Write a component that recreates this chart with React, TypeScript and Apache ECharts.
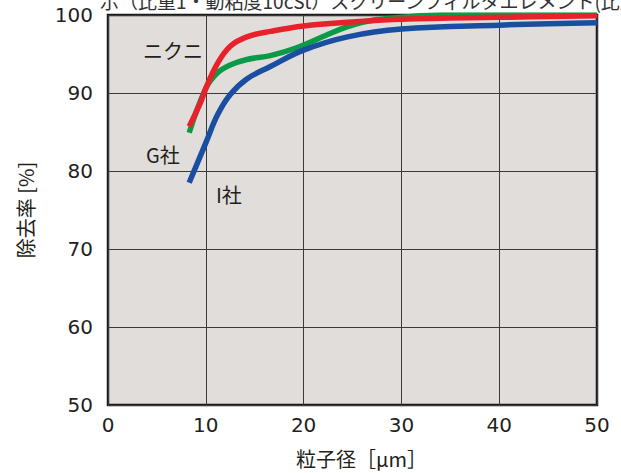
import React, { useEffect, useRef } from "react";
import * as echarts from "echarts";

const xTicks = [0, 10, 20, 30, 40, 50];
const yTicks = [50, 60, 70, 80, 90, 100];

const nikuniData: [number, number][] = [
  [8.3, 85.7], [9.5, 88.9], [10, 90.6], [11.2, 93.8], [12.5, 96.0], [14.2, 97.2],
  [16.6, 97.9], [20, 98.6], [25, 99.1], [30, 99.45], [40, 99.7], [50, 99.9],
];
const gData: [number, number][] = [
  [8.3, 84.9], [10, 90.6], [11.2, 92.6], [12.5, 93.6], [14.2, 94.3], [16.6, 94.8],
  [19.3, 95.8], [22.3, 97.4], [24.5, 98.5], [26.9, 99.3], [30, 99.7], [34, 100], [50, 100],
];
const iData: [number, number][] = [
  [8.3, 78.5], [10, 83.6], [11.2, 87.2], [12.5, 89.8], [14.2, 91.8], [16.6, 93.4],
  [20, 95.5], [24.5, 97.2], [30, 98.2], [40, 98.7], [50, 99.0],
];

const seriesNames = ["ニクニ", "G社", "I社"];
const xAxisName = "粒子径［μm］";
const yAxisName = "除去率 [%]";
const caption = "示（比重1・動粘度10cSt）スクリーンフィルタエレメント(比重";

export default function App() {
  const ref = useRef<HTMLDivElement>(null);
  useEffect(() => {
    const chart = echarts.init(ref.current!, null, { renderer: "svg" });
    const numFont = '"DejaVu Sans", "Noto Sans CJK JP", sans-serif';
    const jpFont = '"Noto Sans CJK JP", sans-serif';
    chart.setOption({
      animation: false,
      grid: {
        left: 108,
        top: 15,
        width: 489,
        height: 392,
        show: true,
        backgroundColor: "#e1dddb",
        borderColor: "#1a1a1a",
        borderWidth: 2.5,
        z: 0,
      },
      xAxis: {
        type: "value",
        min: xTicks[0],
        max: xTicks[xTicks.length - 1],
        interval: 10,
        name: xAxisName,
        nameLocation: "middle",
        nameGap: 43,
        nameTextStyle: { fontFamily: jpFont, fontSize: 20, color: "#231f20", padding: [0, 0, 0, 18] },
        axisLine: { show: false },
        axisTick: { show: false },
        axisLabel: { fontFamily: numFont, fontSize: 20, color: "#231f20", margin: 10 },
        splitLine: { show: true, lineStyle: { color: "#3a3a3a", width: 1 } },
      },
      yAxis: {
        type: "value",
        min: yTicks[0],
        max: yTicks[yTicks.length - 1],
        interval: 10,
        name: yAxisName,
        nameLocation: "middle",
        nameRotate: 90,
        nameGap: 73,
        nameTextStyle: { fontFamily: jpFont, fontSize: 20, color: "#231f20" },
        axisLine: { show: false },
        axisTick: { show: false },
        axisLabel: { fontFamily: numFont, fontSize: 20, color: "#231f20", margin: 15 },
        splitLine: { show: true, lineStyle: { color: "#3a3a3a", width: 1 } },
      },
      series: [
        {
          name: seriesNames[1],
          type: "line",
          data: gData,
          smooth: 0.4,
          showSymbol: false,
          lineStyle: { color: "#0a9a48", width: 5.5 },
          z: 3,
        },
        {
          name: seriesNames[2],
          type: "line",
          data: iData,
          smooth: 0.4,
          showSymbol: false,
          lineStyle: { color: "#1a4ea0", width: 5.5 },
          z: 4,
        },
        {
          name: seriesNames[0],
          type: "line",
          data: nikuniData,
          smooth: 0.4,
          showSymbol: false,
          lineStyle: { color: "#e8212a", width: 5.5 },
          z: 5,
        },
      ],
      graphic: [
        {
          type: "text",
          left: 100,
          top: -9,
          style: { text: caption, fontFamily: jpFont, fontSize: 19, fill: "#333" },
        },
        {
          type: "text",
          x: 143,
          y: 50,
          style: { text: seriesNames[0], fontFamily: jpFont, fontSize: 20, fill: "#231f20", verticalAlign: "middle" },
          z: 10,
        },
        {
          type: "text",
          x: 146,
          y: 154,
          style: { text: seriesNames[1], fontFamily: jpFont, fontSize: 20, fill: "#231f20", verticalAlign: "middle" },
          z: 10,
        },
        {
          type: "text",
          x: 216,
          y: 194,
          style: { text: seriesNames[2], fontFamily: jpFont, fontSize: 20, fill: "#231f20", verticalAlign: "middle" },
          z: 10,
        },
      ],
    });
    return () => chart.dispose();
  }, []);
  return (
    <div
      ref={ref}
      style={{ position: "absolute", left: 0, top: 0, width: 621, height: 473, background: "#fff" }}
    />
  );
}
